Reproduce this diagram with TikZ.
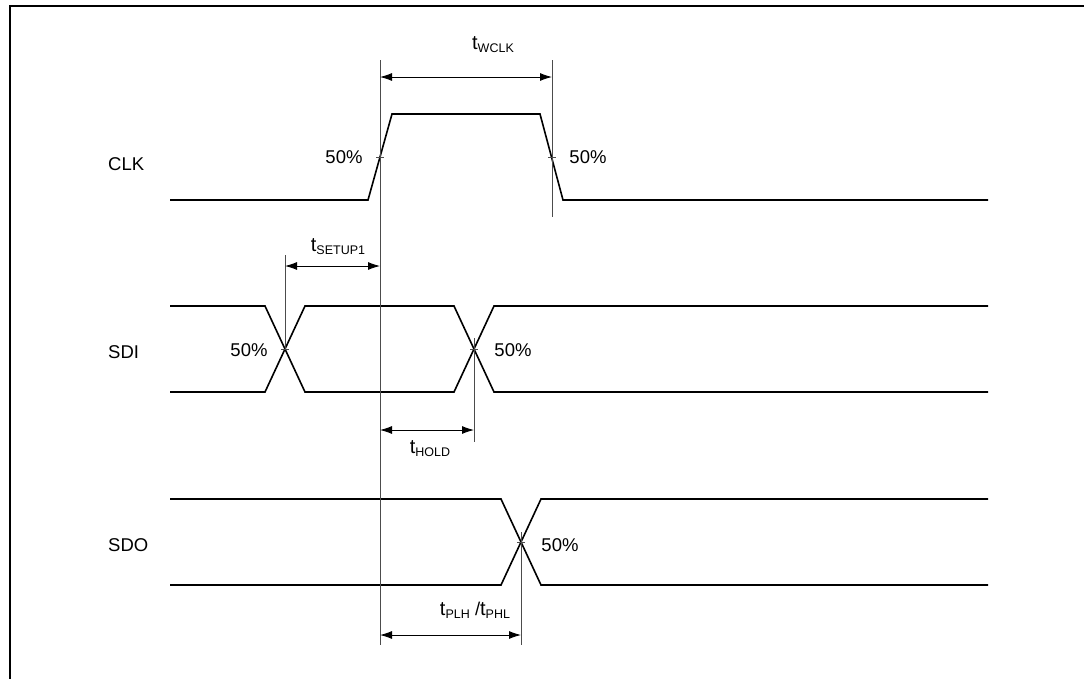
\documentclass[tikz,border=0pt]{standalone}
\usepackage{fontspec}
\setmainfont{Liberation Sans}
\usetikzlibrary{arrows.meta}

\tikzset{
	wave/.style={line width=1.6pt, line join=miter},
	refline/.style={line width=0.9pt, draw=black!70},
	dim/.style={line width=0.9pt, {Latex[length=12pt,width=8pt]}-{Latex[length=12pt,width=8pt]}},
	lbl/.style={font=\fontsize{18.5}{20}\selectfont, inner sep=0pt},
	sig/.style={lbl, anchor=west}
}
\newcommand{\tsub}[1]{{\fontsize{20}{22}\selectfont t}\raisebox{-3pt}{\fontsize{12.5}{14}\selectfont #1}}

\begin{document}
\begin{tikzpicture}[x=1pt, y=-1pt]

\useasboundingbox (0, 0) rectangle (1084, 678);

% frame
\draw[line width=2pt] (10, 700) -- (10, 6) -- (1100, 6);

% signal names
\node (clk) at (108, 164) [sig] {CLK};
\node (sdi) at (108, 352) [sig] {SDI};
\node (sdo) at (108, 545) [sig] {SDO};

% waveforms
\draw[wave] (170, 200) -- (368, 200) -- (392, 114) -- (540, 114) -- (563, 200) -- (988, 200);
\draw[wave] (170, 306) -- (265, 306) -- (305, 392) -- (454, 392) -- (494, 306) -- (988, 306);
\draw[wave] (170, 392) -- (265, 392) -- (305, 306) -- (454, 306) -- (494, 392) -- (988, 392);
\draw[wave] (170, 499) -- (501, 499) -- (541, 585) -- (988, 585);
\draw[wave] (170, 585) -- (501, 585) -- (541, 499) -- (988, 499);

% 50% points
\coordinate (clkrise) at (380, 157);
\coordinate (clkfall) at (552, 157);
\coordinate (sdiA) at (285, 349);
\coordinate (sdiB) at (474, 349);
\coordinate (sdoX) at (521, 542);
\foreach \p in {clkrise, clkfall, sdiA, sdiB, sdoX}
	\draw[refline] ([xshift=-4pt]\p) -- ([xshift=4pt]\p);

% reference lines
\coordinate (riseTop) at (380, 60);
\coordinate (riseBot) at (380, 645);
\coordinate (fallTop) at (552, 60);
\coordinate (fallBot) at (552, 217);
\coordinate (setupTop) at (285, 255);
\coordinate (holdBot) at (474, 442);
\coordinate (holdTop) at (474, 338);
\coordinate (sdoTop) at (521, 532);
\coordinate (sdoBot) at (521, 645);
\draw[refline] (riseTop) -- (riseBot);
\draw[refline] (fallTop) -- (fallBot);
\draw[refline] (setupTop) -- (sdiA);
\draw[refline] (holdTop) -- (holdBot);
\draw[refline] (sdoTop) -- (sdoBot);

% timing arrows
\coordinate (wclkL) at (380, 77);
\coordinate (wclkR) at (552, 77);
\coordinate (setupL) at (285, 266);
\coordinate (setupR) at (380, 266);
\coordinate (holdL) at (380, 430);
\coordinate (holdR) at (474, 430);
\coordinate (plhL) at (380, 635);
\coordinate (plhR) at (521, 635);
\draw[dim] (wclkL) -- (wclkR);
\draw[dim] (setupL) -- (setupR);
\draw[dim] (holdL) -- (holdR);
\draw[dim] (plhL) -- (plhR);

% labels
\node (twclk) at (493, 45) [lbl] {\tsub{WCLK}};
\node (tsetup) at (338, 247) [lbl] {\tsub{SETUP1}};
\node (thold) at (430, 449) [lbl] {\tsub{HOLD}};
\node (tplh) at (475, 610) [lbl] {\tsub{PLH} /\tsub{PHL}};

\node (pcA) at (344, 157) [lbl] {50\%};
\node (pcB) at (588, 157) [lbl] {50\%};
\node (pcC) at (249, 350) [lbl] {50\%};
\node (pcD) at (513, 350) [lbl] {50\%};
\node (pcE) at (560, 545) [lbl] {50\%};

\end{tikzpicture}
\end{document}
